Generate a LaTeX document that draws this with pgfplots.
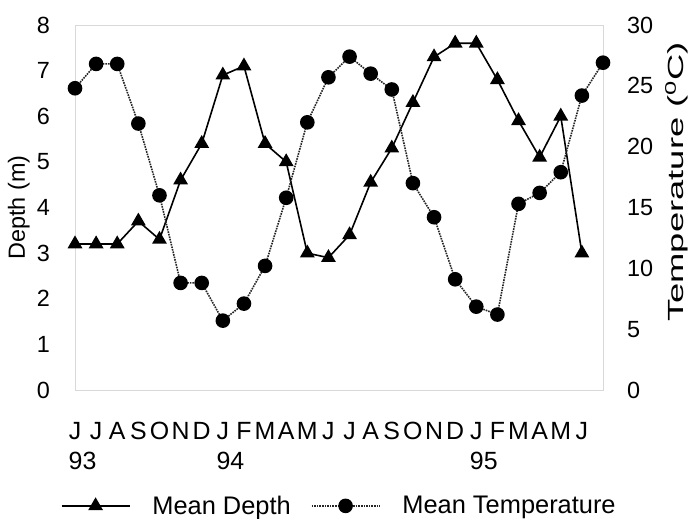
\documentclass[border=0pt]{standalone}
\usepackage{fontspec}
\setmainfont{Liberation Sans}
\usepackage{pgfplots}
\pgfplotsset{compat=1.18}

\pgfplotstableread{
x depth
0 3.2
1 3.2
2 3.2
3 3.7
4 3.3
5 4.6
6 5.4
7 6.9
8 7.1
9 5.4
10 5.0
11 3.0
12 2.9
13 3.4
14 4.55
15 5.3
16 6.3
17 7.3
18 7.6
19 7.6
20 6.8
21 5.9
22 5.1
23 6.0
24 3.0
}\depthtab

\pgfplotstableread{
x temp
0 24.8
1 26.8
2 26.8
3 21.9
4 16.0
5 8.8
6 8.8
7 5.7
8 7.1
9 10.2
10 15.8
11 22.0
12 25.7
13 27.4
14 26.0
15 24.7
16 17.0
17 14.2
18 9.1
19 6.85
20 6.2
21 15.3
22 16.2
23 17.9
24 24.2
25 26.9
}\temptab

\tikzset{
  depthline/.style={black, line width=1.6bp, mark=triangle*, mark size=7bp, mark options={solid, fill=black}},
  templine/.style={black!85, densely dotted, line width=1.6bp, mark=*, mark size=6.5bp, mark options={solid, black, fill=black}},
}
\pgfplotsset{
  base/.style={
    scale only axis, width=528bp, height=365bp,
    xmin=0, xmax=25, clip=false,
    axis line style={draw=black!15, line width=0.6bp},
    major tick length=0pt,
    /pgf/number format/assume math mode=true,
    ticklabel style={font=\fontsize{23.5}{28}\selectfont, inner sep=0pt},
    legend image code/.code={\draw[mark repeat=2,mark phase=2,##1] plot coordinates {(0bp,0bp) (34bp,0bp) (68bp,0bp)};},
  },
}

\begin{document}
\begin{tikzpicture}
\begin{axis}[base,
  ymin=0, ymax=8, ytick={0,1,...,8},
  ytick pos=left, xtick pos=bottom,
  xtick={0,1,...,24},
  xticklabels={J,J,A,S,O,N,D,J,F,M,A,M,J,J,A,S,O,N,D,J,F,M,A,M,J},
  xticklabel style={font=\fontsize{25}{30}\selectfont, anchor=north, yshift=-31.7bp},
  yticklabel style={anchor=east, xshift=-25bp},
  ylabel={Depth (m)},
  ylabel style={font=\fontsize{23.5}{28}\selectfont, inner sep=0pt, anchor=south, at={(rel axis cs:-0.0852,0.5)}},
]
\addplot[depthline] table[x=x, y=depth] {\depthtab};
\foreach \yr/\pos in {93/0, 94/7, 95/19} {
  \edef\tmp{\noexpand\node[anchor=north west, inner sep=0pt, font=\noexpand\fontsize{25}{30}\noexpand\selectfont, xshift=-6.5bp, yshift=-61.7bp] at (axis cs:\pos,0) {\yr};}
  \tmp
}
\coordinate (bbl) at (rel axis cs:-0.14205,-0.35342);
\coordinate (btr) at (rel axis cs:1.17424,1.06849);
\end{axis}

\begin{axis}[base,
  ymin=0, ymax=30, ytick={0,5,...,30},
  axis x line=none, axis y line*=right,
  yticklabel style={anchor=west, xshift=24bp},
  ylabel={Temperature (\textsuperscript{0}C)},
  ylabel style={font=\fontsize{22}{26}\selectfont, inner sep=0pt, anchor=north, at={(rel axis cs:1.1174,0.5700)}, xscale=1.66},
  legend columns=2,
  legend style={draw=none, fill=none, font=\fontsize{25.5}{30}\selectfont,
    at={(0.4985,-0.3175)}, anchor=center, cells={anchor=west}, nodes={inner sep=0pt},
    /tikz/every odd column/.append style={column sep=22bp},
    /tikz/every even column/.append style={column sep=20bp}},
]
\addlegendimage{depthline}
\addlegendentry{Mean Depth}
\addplot[templine] table[x=x, y=temp] {\temptab};
\addlegendentry{Mean Temperature}
\end{axis}
\pgfresetboundingbox
\path[use as bounding box] (bbl) rectangle (btr);
\end{tikzpicture}
\end{document}
